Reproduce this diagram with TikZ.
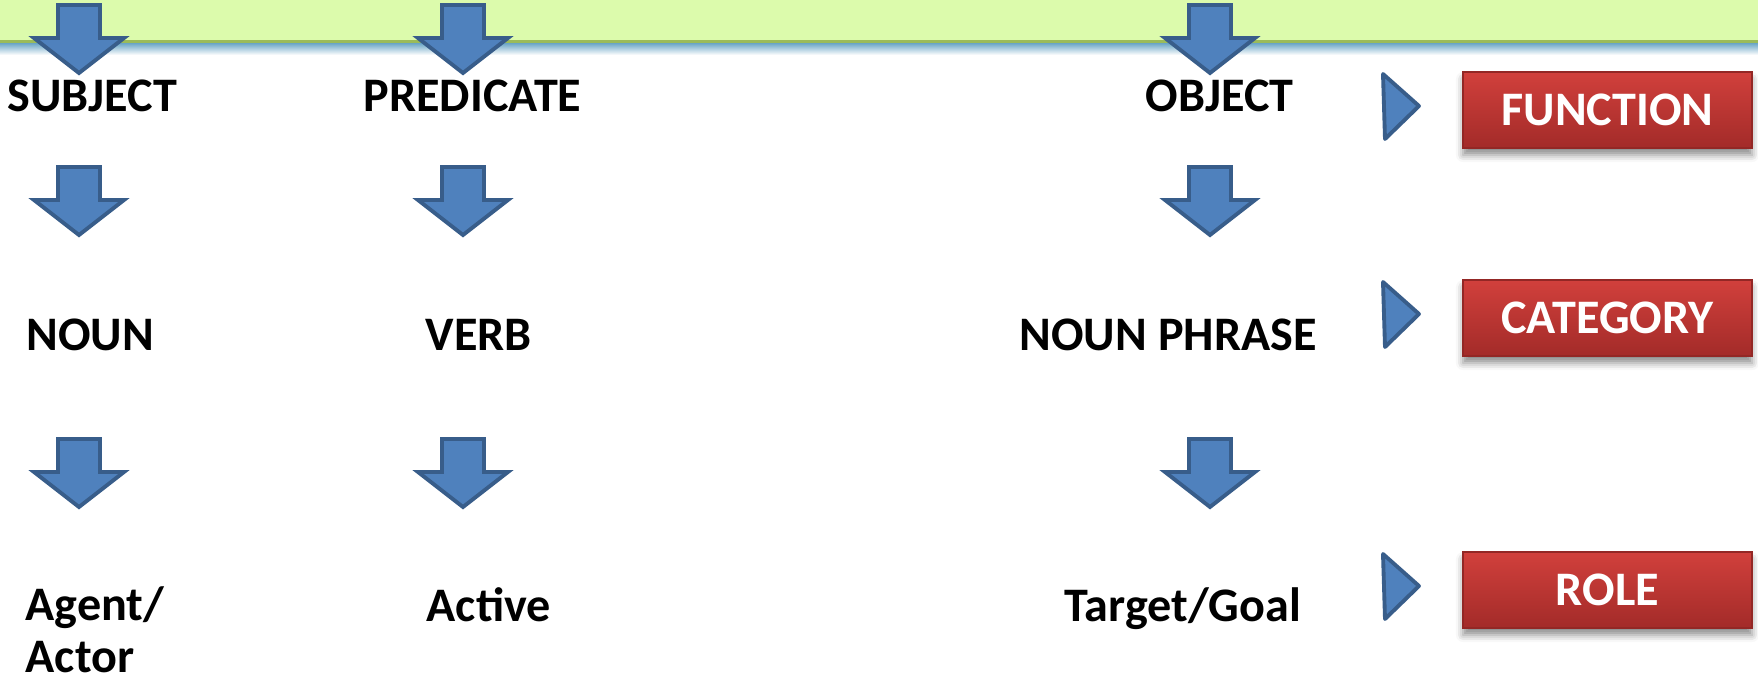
\documentclass[tikz,border=0pt]{standalone}
\usepackage{fontspec}
\setmainfont{Carlito}
\usetikzlibrary{shadows.blur}
\definecolor{bandgreen}{HTML}{DCFBAC}
\definecolor{bandline}{HTML}{9BBB59}
\definecolor{bandshade}{HTML}{5C9DC0}
\definecolor{arrfill}{HTML}{4F81BD}
\definecolor{arrline}{HTML}{385D8A}
\definecolor{redtop}{HTML}{D1403C}
\definecolor{redbot}{HTML}{A32B29}

\begin{document}
\begin{tikzpicture}[x=0.1mm, y=-0.1mm,
  word/.style={anchor=base west, inner sep=0pt, align=left,
    font=\fontsize{13.7}{14.6}\selectfont\bfseries},
  redbox/.style={minimum width=28.9mm, minimum height=7.6mm, inner sep=0pt,
    top color=redtop, bottom color=redbot, draw=redbot!90!black, line width=0.3pt,
    text=white, font=\fontsize{13.7}{14}\selectfont\bfseries, text height=8.66pt, text depth=0pt,
    blur shadow={shadow xshift=0pt, shadow yshift=-2pt, shadow blur radius=2pt, shadow opacity=45}},
  blockarrow/.style={fill=arrfill, draw=arrline, line width=1.1pt, line join=miter},
  tri/.style={fill=arrfill, draw=arrline, line width=1.1pt, line join=round},
  pics/downarr/.style={code={
    \draw[blockarrow] (-21,0) -- (21,0) -- (21,33) -- (45,33) -- (0,68) -- (-45,33) -- (-21,33) -- cycle;}}]
\useasboundingbox (0,0) rectangle (1758,681);

\fill[bandgreen] (0,0) rectangle (1758,41);
\shade[top color=bandshade, bottom color=white] (0,42) rectangle (1758,55);
\draw[bandline, line width=0.7pt] (0,41.5) -- (1758,41.5);

\foreach \x in {79,463,1210}
  \foreach \y in {5,167,439}
    \pic at (\x,\y) {downarr};

\node[word] (subj) at (7,112) {SUBJECT};
\node[word] (pred) at (363,112) {PREDICATE};
\node[word] (obj) at (1145,112) {OBJECT};

\node[word] (noun) at (26,351) {NOUN};
\node[word] (verb) at (425,351) {VERB};
\node[word] (nphrase) at (1019,351) {NOUN PHRASE};

\node[word] (agent) at (25,672) {Agent/\\Actor};
\node[word] (active) at (426,622) {Active};
\node[word] (target) at (1064,622) {Target/Goal};

\foreach \y in {74,282,554}
  \draw[tri] (1383,\y) -- ++(36,32) -- ++(-34,33) -- cycle;

\node[redbox] (func) at (1607.5,110) {FUNCTION};
\node[redbox] (cat) at (1607.5,318) {CATEGORY};
\node[redbox] (role) at (1607.5,590) {ROLE};
\end{tikzpicture}
\end{document}
